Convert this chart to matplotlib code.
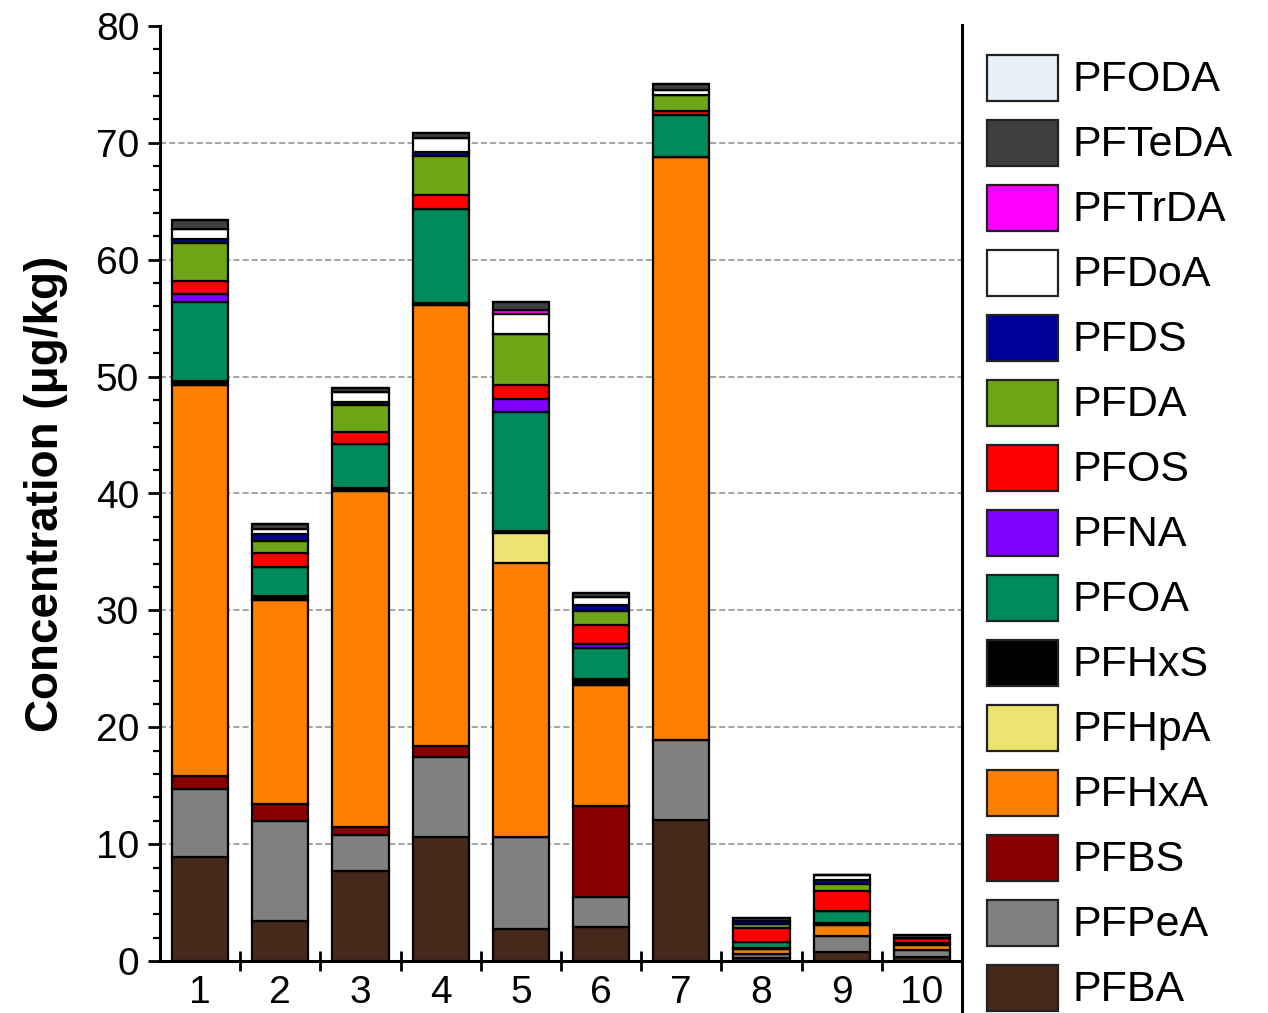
import numpy as np
import matplotlib
matplotlib.use("Agg")
import matplotlib.pyplot as plt
from matplotlib.patches import Rectangle
from matplotlib.lines import Line2D
from matplotlib.ticker import MultipleLocator, FixedLocator

plt.rcParams['font.family'] = ['Liberation Sans', 'DejaVu Sans']

# sample sites
sites = ['1', '2', '3', '4', '5', '6', '7', '8', '9', '10']

# concentrations per compound (ug/kg), stacked bottom -> top
PFBA   = [8.9, 3.4, 7.7, 10.6, 2.75, 2.9, 12.05, 0.25, 0.74, 0.3]
PFPeA  = [5.8, 8.6, 3.1, 6.85, 7.9, 2.6, 6.85, 0.35, 1.38, 0.6]
PFBS   = [1.1, 1.4, 0.7, 0.95, 0.0, 7.75, 0.0, 0.0, 0.0, 0.0]
PFHxA  = [33.5, 17.5, 28.7, 37.7, 23.4, 10.4, 49.85, 0.4, 0.95, 0.45]
PFHpA  = [0.0, 0.0, 0.0, 0.0, 2.55, 0.0, 0.0, 0.0, 0.0, 0.0]
PFHxS  = [0.3, 0.35, 0.3, 0.2, 0.2, 0.45, 0.0, 0.12, 0.2, 0.2]
PFOA   = [6.8, 2.5, 3.7, 8.0, 10.2, 2.7, 3.6, 0.48, 1.0, 0.0]
PFNA   = [0.65, 0.0, 0.0, 0.0, 1.05, 0.35, 0.0, 0.0, 0.0, 0.0]
PFOS   = [1.1, 1.2, 1.1, 1.25, 1.2, 1.6, 0.35, 1.2, 1.7, 0.4]
PFDA   = [3.3, 1.0, 2.3, 3.3, 4.4, 1.2, 1.37, 0.33, 0.6, 0.0]
PFDS   = [0.35, 0.55, 0.2, 0.35, 0.0, 0.5, 0.0, 0.3, 0.35, 0.0]
PFDoA  = [0.85, 0.45, 0.9, 1.2, 1.7, 0.7, 0.48, 0.0, 0.45, 0.0]
PFTrDA = [0.0, 0.0, 0.0, 0.0, 0.35, 0.0, 0.0, 0.0, 0.0, 0.0]
PFTeDA = [0.75, 0.45, 0.35, 0.45, 0.7, 0.3, 0.46, 0.25, 0.0, 0.3]
PFODA  = [0.0, 0.0, 0.0, 0.0, 0.0, 0.0, 0.0, 0.0, 0.0, 0.0]

names = ['PFBA', 'PFPeA', 'PFBS', 'PFHxA', 'PFHpA', 'PFHxS', 'PFOA', 'PFNA',
         'PFOS', 'PFDA', 'PFDS', 'PFDoA', 'PFTrDA', 'PFTeDA', 'PFODA']
series = [PFBA, PFPeA, PFBS, PFHxA, PFHpA, PFHxS, PFOA, PFNA,
          PFOS, PFDA, PFDS, PFDoA, PFTrDA, PFTeDA, PFODA]
colors = ['#45291b', '#808080', '#880000', '#ff8000', '#ece470', '#000000',
          '#008b5c', '#8000ff', '#ff0000', '#6ca616', '#000099', '#ffffff',
          '#ff00ff', '#3f3f3f', '#e8f1fa']

W, H = 1268, 1013
fig = plt.figure(figsize=(W / 100, H / 100), dpi=100)
ax = fig.add_axes([160 / W, 1 - 961 / H, (962 - 160) / W, (961 - 26) / H])

x = np.arange(1, len(sites) + 1)
bottom = np.zeros(len(sites))
for name, vals, c in zip(names, series, colors):
    vals = np.array(vals)
    ax.bar(x, vals, 0.7, bottom=bottom, color=c, edgecolor='black',
           linewidth=1.6, zorder=3, label=name)
    bottom += vals

ax.set_xlim(0.5, 10.5)
ax.set_ylim(0, 80)

# y axis
ax.yaxis.set_major_locator(MultipleLocator(10))
ax.yaxis.set_minor_locator(MultipleLocator(2))
ax.tick_params(axis='y', which='major', direction='out', length=9, width=2,
               labelsize=28, pad=6)
ax.tick_params(axis='y', which='minor', direction='out', length=5, width=1.6)

# x axis: labels at bar centers, ticks between bars
ax.set_xticks(x)
ax.set_xticklabels(sites)
ax.xaxis.set_minor_locator(FixedLocator(np.arange(1.5, 10.5, 1.0)))
ax.tick_params(axis='x', which='major', length=0, labelsize=28, pad=10)
ax.tick_params(axis='x', which='minor', direction='inout', length=14, width=2)

ax.set_ylabel('Concentration (\u03bcg/kg)', fontsize=33, fontweight='bold',
              labelpad=20)

for yv in range(10, 80, 10):
    ax.axhline(yv, color='#8c8c8c', lw=1.1, ls=(0, (4, 2)), zorder=1)

ax.spines['top'].set_visible(False)
ax.spines['right'].set_visible(False)
ax.spines['left'].set_linewidth(2.2)
ax.spines['bottom'].set_linewidth(2.2)

# divider between plot and legend
fig.add_artist(Line2D([962 / W, 962 / W], [0, 1 - 25 / H], color='black',
                      lw=2.2, transform=fig.transFigure))

# legend, newest compound on top
for i, (name, c) in enumerate(zip(names[::-1], colors[::-1])):
    yc = 78 + i * 65
    fig.add_artist(Rectangle((987 / W, 1 - (yc + 23) / H), 71 / W, 46 / H,
                             facecolor=c, edgecolor='#222222', lw=1.6,
                             transform=fig.transFigure))
    fig.text(1073 / W, 1 - (yc + 2) / H, name, fontsize=31, va='center',
             ha='left')

fig.savefig('out.png', dpi=100)
